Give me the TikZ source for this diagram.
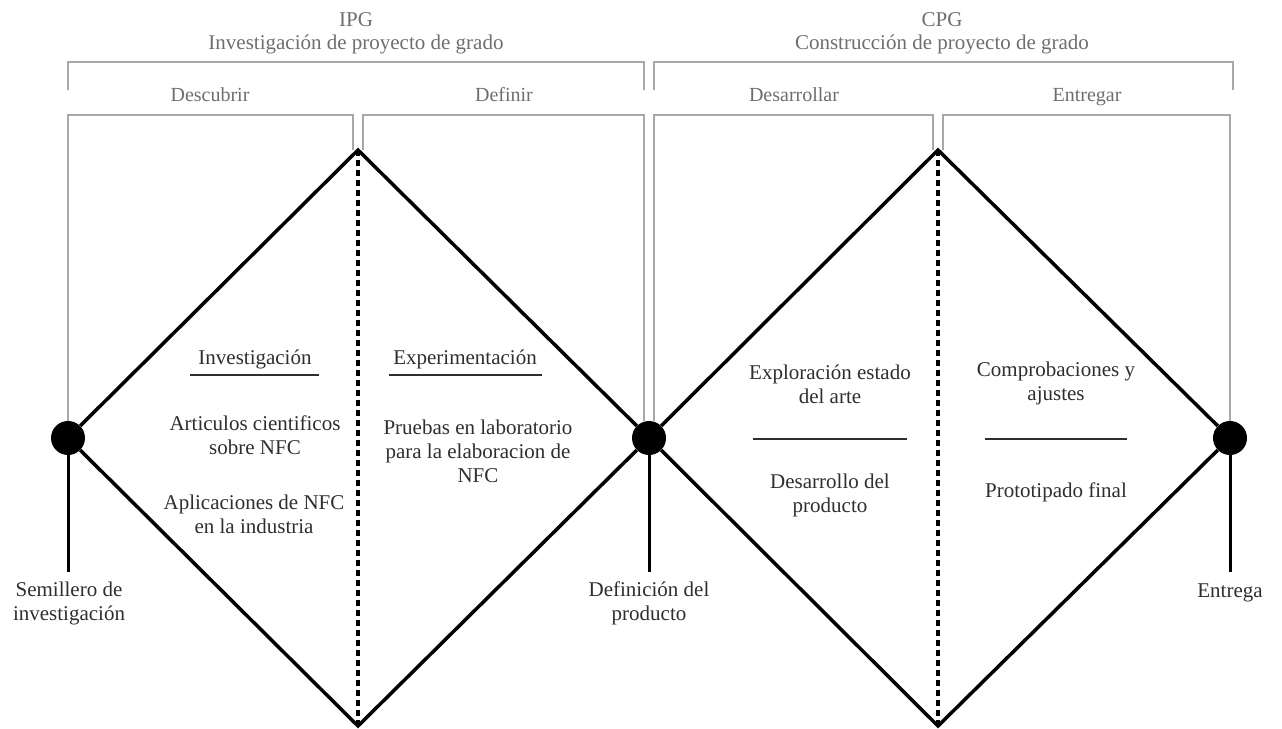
\documentclass[tikz,border=0pt]{standalone}
\usepackage{fontspec}
\setmainfont{Liberation Serif}
\usepackage{tikz}
\usetikzlibrary{positioning}
\definecolor{gristexto}{HTML}{2E2E2E}
\definecolor{grisclaro}{HTML}{6E6E6E}
\definecolor{grisllave}{HTML}{A8A8A8}
\tikzset{
    hito/.style = {circle, fill=black, minimum size=34pt, inner sep=0pt},
    rombo/.style = {line width=3.5pt, line join=miter},
    eje/.style = {line width=3.5pt, dash pattern=on 6pt off 4pt},
    rama/.style = {line width=3pt},
    llave/.style = {draw=grisllave, line width=2.5pt},
    raya/.style = {draw=gristexto, line width=1.5pt},
    texto/.style = {font=\fontsize{21}{24}\selectfont, text=gristexto, align=center, inner sep=0pt, anchor=base},
    fase/.style = {font=\fontsize{21}{23}\selectfont, text=grisclaro, align=center, inner sep=0pt, anchor=base},
    etapa/.style = {font=\fontsize{20}{22}\selectfont, text=grisclaro, inner sep=0pt, anchor=base}
}

\begin{document}
\begin{tikzpicture}[x=1pt, y=-1pt]
                \useasboundingbox (0,0) rectangle (1282,728);
                % hitos
                \node (s1) [hito] at (68, 438) {};
                \node (s2) [hito] at (649, 438) {};
                \node (s3) [hito] at (1230, 438) {};
                \coordinate (t1) at (358, 150);
                \coordinate (b1) at (358, 726);
                \coordinate (t2) at (938, 150);
                \coordinate (b2) at (938, 726);
                \coordinate (p1) at (68, 572);
                \coordinate (p2) at (649, 572);
                \coordinate (p3) at (1230, 572);
                % llaves
                \draw[llave] (68, 90) |- (644, 62) -- (644, 90);
                \draw[llave] (654, 90) |- (1233, 62) -- (1233, 90);
                \draw[llave] (s1.north) -- (68, 115) -| ([xshift=-5pt]t1);
                \draw[llave] ([xshift=5pt]t1) |- (644, 115) -- ([xshift=-5pt]s2.north);
                \draw[llave] ([xshift=5pt]s2.north) -- (654, 115) -| ([xshift=-5pt]t2);
                \draw[llave] ([xshift=5pt]t2) |- (1230, 115) -- (s3.north);
                % rombos
                \draw[rombo] (s1) -- (t1) -- (s2) -- (b1) -- (s1);
                \draw[rombo] (s2) -- (t2) -- (s3) -- (b2) -- (s2);
                \draw[eje] (t1) -- (b1);
                \draw[eje] (t2) -- (b2);
                \draw[rama] (s1) -- (p1);
                \draw[rama] (s2) -- (p2);
                \draw[rama] (s3) -- (p3);
                % titulos
                \node (ipg) [fase] at (356, 49) {IPG\\Investigación de proyecto de grado};
                \node (cpg) [fase] at (942, 49) {CPG\\Construcción de proyecto de grado};
                \node (descubrir) [etapa] at (210, 101) {Descubrir};
                \node (definir) [etapa] at (504, 101) {Definir};
                \node (desarrollar) [etapa] at (794, 101) {Desarrollar};
                \node (entregar) [etapa] at (1087, 101) {Entregar};
                % contenido
                \node (inv) [texto] at (255, 364) {Investigación};
                \draw[raya] (190, 375) -- (319, 375);
                \node (exp) [texto] at (465, 364) {Experimentación};
                \draw[raya] (389, 375) -- (542, 375);
                \node (art) [texto] at (255, 454) {Articulos cientificos\\sobre NFC};
                \node (apl) [texto] at (254, 533) {Aplicaciones de NFC\\en la industria};
                \node (pru) [texto] at (478, 482) {Pruebas en laboratorio\\para la elaboracion de\\NFC};
                \node (explo) [texto] at (830, 403) {Exploración estado\\del arte};
                \draw[raya] (753, 439) -- (907, 439);
                \node (desa) [texto] at (830, 512) {Desarrollo del\\producto};
                \node (comp) [texto] at (1056, 400) {Comprobaciones y\\ajustes};
                \draw[raya] (985, 439) -- (1127, 439);
                \node (proto) [texto] at (1056, 497) {Prototipado final};
                % etiquetas de hitos
                \node (semi) [texto] at (69, 620) {Semillero de\\investigación};
                \node (defi) [texto] at (649, 620) {Definición del\\producto};
                \node (entrega) [texto] at (1230, 597) {Entrega};
            \end{tikzpicture}
\end{document}
